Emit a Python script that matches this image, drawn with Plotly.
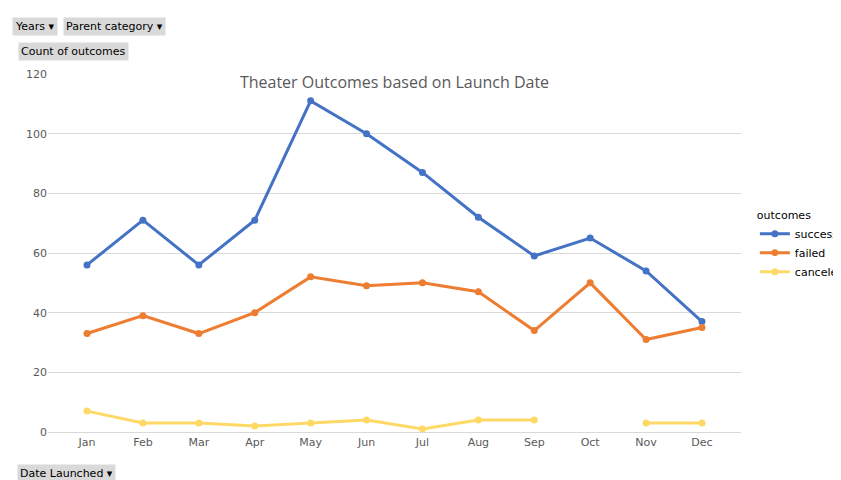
import plotly.graph_objects as go

months = ["Jan", "Feb", "Mar", "Apr", "May", "Jun", "Jul", "Aug", "Sep", "Oct", "Nov", "Dec"]
successful = [56, 71, 56, 71, 111, 100, 87, 72, 59, 65, 54, 37]
failed = [33, 39, 33, 40, 52, 49, 50, 47, 34, 50, 31, 35]
canceled = [7, 3, 3, 2, 3, 4, 1, 4, 4, None, 3, 3]

series = [
    ("successful", successful, "#4472C4"),
    ("failed", failed, "#ED7D31"),
    ("canceled", canceled, "#FFD966"),
]

fig = go.Figure()
for name, vals, color in series:
    fig.add_trace(go.Scatter(
        x=months, y=vals, name=name, mode="lines+markers",
        line=dict(color=color, width=3), marker=dict(size=7, color=color),
    ))

fig.update_layout(
    width=841, height=480,
    margin=dict(l=40, r=108, t=66, b=56, autoexpand=False),
    plot_bgcolor="white", paper_bgcolor="white",
    font=dict(family="DejaVu Sans", size=11, color="#595959"),
    title=dict(text="Theater Outcomes based on Launch Date", x=0.5, xanchor="center",
               xref="paper", y=0.845, yanchor="middle",
               font=dict(family="Open Sans", size=16, color="#595959")),
    xaxis=dict(showgrid=False, showline=True, linecolor="#D9D9D9", ticks="",
               automargin=False, tickfont=dict(size=11, color="#595959")),
    yaxis=dict(range=[0, 120], dtick=20, gridcolor="#D9D9D9", zeroline=False,
               automargin=False, tickfont=dict(size=11, color="#595959")),
    showlegend=True,
    legend=dict(x=1.02, y=0.52, xanchor="left", yanchor="middle",
                font=dict(size=11, color="#000000"), itemwidth=30,
                title=dict(text="outcomes", font=dict(size=11, color="#000000"))),
)

buttons = [
    ("Years ▾", 4, 9),
    ("Parent category ▾", 55, 9),
    ("Count of outcomes", 10, 34),
    ("Date Launched ▾", 9, 456),
]
for text, px_x, px_y in buttons:
    fig.add_annotation(text=text, xref="paper", yref="paper",
                       x=(px_x - 40) / 693, y=1 - (px_y - 66) / 358,
                       xanchor="left", yanchor="top", showarrow=False,
                       bgcolor="#D9D9D9", borderpad=2,
                       font=dict(size=11, color="#000000"))

fig.write_html("out.html")
